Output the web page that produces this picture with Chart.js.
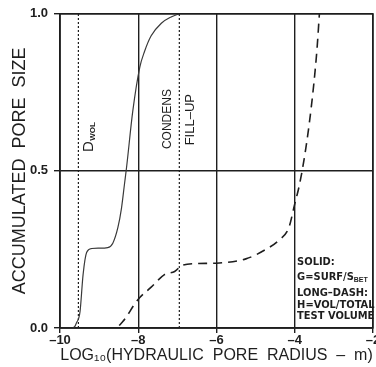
<!DOCTYPE html>
<html>
<head>
<meta charset="utf-8">
<script src="https://cdn.jsdelivr.net/npm/chart.js@4.4.1/dist/chart.umd.min.js"></script>
<style>
  html, body { margin: 0; padding: 0; background: #fff; overflow: hidden; width: 376px; height: 367px; }
  canvas { display: block; }
</style>
</head>
<body>
<canvas id="c" width="392" height="367"></canvas>
<script>
// ---- data ----
const solidX = [-10, -9.7, -9.62, -9.58, -9.49, -9.41, -9.32, -9.19, -9.0, -8.78, -8.65, -8.52, -8.43, -8.35, -8.30, -8.14, -7.96, -7.84, -7.67, -7.41, -7.16, -6.95];
const solidY = [0, 0, 0.005, 0.016, 0.05, 0.17, 0.24, 0.253, 0.254, 0.256, 0.27, 0.32, 0.38, 0.46, 0.51, 0.69, 0.83, 0.88, 0.93, 0.97, 0.99, 1.0];
const dashX = [-10, -8.6, -8.40, -8.01, -7.67, -7.33, -7.07, -6.87, -6.5, -5.93, -5.25, -4.74, -4.40, -4.15, -4.0, -3.89, -3.77, -3.64, -3.51, -3.43, -3.37];
const dashY = [0, 0, 0.02, 0.09, 0.13, 0.17, 0.18, 0.20, 0.205, 0.207, 0.22, 0.25, 0.28, 0.32, 0.395, 0.45, 0.53, 0.64, 0.78, 0.89, 1.0];
const markerLinesX = [-9.53, -6.95];
const markerLabels = ["D", "CONDENS", "FILL\u2013UP"];
const xTicks = [-10, -8, -6, -4, -2];
const yTicks = [0.0, 0.5, 1.0];
const noteLines = ["SOLID:", "G=SURF/S", "LONG\u2013DASH:", "H=VOL/TOTAL", "TEST VOLUME"];

const toPts = (xs, ys) => xs.map((x, i) => ({x, y: ys[i]}));

const ink = '#1e1e1e';

const annot = {
  id: 'annot',
  afterDatasetsDraw(chart) {
    const {ctx, scales: {x, y}} = chart;
    ctx.save();
    ctx.fillStyle = ink;
    // D_WOL
    ctx.save();
    ctx.translate(x.getPixelForValue(-9.26), y.getPixelForValue(0.56));
    ctx.rotate(-Math.PI / 2);
    ctx.textBaseline = 'middle';
    ctx.textAlign = 'left';
    ctx.font = '15px "Liberation Sans", Arial, sans-serif';
    ctx.fillText(markerLabels[0], 0, 0);
    const dw = ctx.measureText(markerLabels[0]).width;
    ctx.font = 'bold 8px "Liberation Sans", Arial, sans-serif';
    ctx.fillText('WOL', dw + 0.5, 4);
    ctx.restore();
    // CONDENS / FILL-UP
    ctx.textAlign = 'center';
    ctx.textBaseline = 'middle';
    [[markerLabels[1], -7.24, 0.665], [markerLabels[2], -6.66, 0.663]].forEach(([t, vx, vy], i) => {
      ctx.font = (i === 0 ? '12px' : '13px') + ' "Liberation Sans", Arial, sans-serif';
      ctx.save();
      ctx.translate(x.getPixelForValue(vx), y.getPixelForValue(vy));
      ctx.rotate(-Math.PI / 2);
      ctx.fillText(t, 0, 0);
      ctx.restore();
    });
    // note block
    ctx.textAlign = 'left';
    ctx.textBaseline = 'middle';
    const nx = x.getPixelForValue(-3.94);
    const rows = [0.21, 0.162, 0.11, 0.073, 0.038];
    noteLines.forEach((t, i) => {
      ctx.font = 'bold 11px "Liberation Sans Narrow", "DejaVu Sans Condensed", Arial, sans-serif';
      const py = y.getPixelForValue(rows[i]);
      ctx.fillText(t, nx, py);
      if (i === 1) {
        const w = ctx.measureText(t).width;
        ctx.font = 'bold 7px "Liberation Sans Narrow", Arial, sans-serif';
        ctx.fillText('BET', nx + w, py + 3);
      }
    });
    ctx.restore();
  }
};

new Chart(document.getElementById('c'), {
  type: 'line',
  data: {
    datasets: [
      { data: toPts(solidX, solidY), borderColor: '#3a3a3a', borderWidth: 1.2, pointRadius: 0, cubicInterpolationMode: 'monotone', fill: false },
      { data: toPts(dashX, dashY), borderColor: ink, borderWidth: 1.6, borderDash: [9, 6], pointRadius: 0, cubicInterpolationMode: 'monotone', fill: false },
      { data: [{x: markerLinesX[0], y: 0}, {x: markerLinesX[0], y: 1}], borderColor: ink, borderWidth: 1.2, borderDash: [2, 2], pointRadius: 0 },
      { data: [{x: markerLinesX[1], y: 0}, {x: markerLinesX[1], y: 1}], borderColor: ink, borderWidth: 1.2, borderDash: [2, 2], pointRadius: 0 }
    ]
  },
  options: {
    responsive: false,
    animation: false,
    devicePixelRatio: 1,
    layout: { padding: { left: 0, top: 12, right: 19, bottom: 0 } },
    plugins: { legend: { display: false }, tooltip: { enabled: false } },
    scales: {
      x: {
        type: 'linear', min: -10, max: -2,
        afterBuildTicks: s => { s.ticks = xTicks.map(v => ({value: v})); },
        afterFit: s => { s.height = 39; },
        grid: { color: ink, lineWidth: 1.4, tickLength: 5, drawTicks: true },
        border: { color: ink, width: 1.4 },
        ticks: { color: ink, font: { family: '"Liberation Sans", Arial, sans-serif', size: 13, weight: 'bold' }, padding: 0, maxRotation: 0,
                 callback: v => (v < 0 ? '\u2013' + Math.abs(v) : String(v)) },
        title: { display: true, text: 'LOG\u2081\u2080(HYDRAULIC  PORE  RADIUS  \u2013  m)', color: ink,
                 font: { family: '"Liberation Sans", Arial, sans-serif', size: 16 }, padding: { top: 0, bottom: 2 } }
      },
      y: {
        min: 0, max: 1,
        afterBuildTicks: s => { s.ticks = yTicks.map(v => ({value: v})); },
        afterFit: s => { s.width = 60; },
        grid: { color: ink, lineWidth: 1.4, tickLength: 6, drawTicks: true },
        border: { color: ink, width: 1.4 },
        ticks: { color: ink, font: { family: '"Liberation Sans", Arial, sans-serif', size: 13, weight: 'bold' }, padding: 6,
                 callback: v => v.toFixed(1) },
        title: { display: true, text: 'ACCUMULATED  PORE  SIZE', color: ink,
                 font: { family: '"Liberation Sans", Arial, sans-serif', size: 18 }, padding: { top: 9, bottom: 0 } }
      }
    }
  },
  plugins: [annot, {
    id: 'frame',
    afterDraw(chart) {
      const {ctx, chartArea: a} = chart;
      ctx.save();
      ctx.strokeStyle = ink; ctx.lineWidth = 1.4;
      ctx.strokeRect(a.left, a.top, a.right - a.left, a.bottom - a.top);
      ctx.restore();
    }
  }]
});
</script>
</body>
</html>
